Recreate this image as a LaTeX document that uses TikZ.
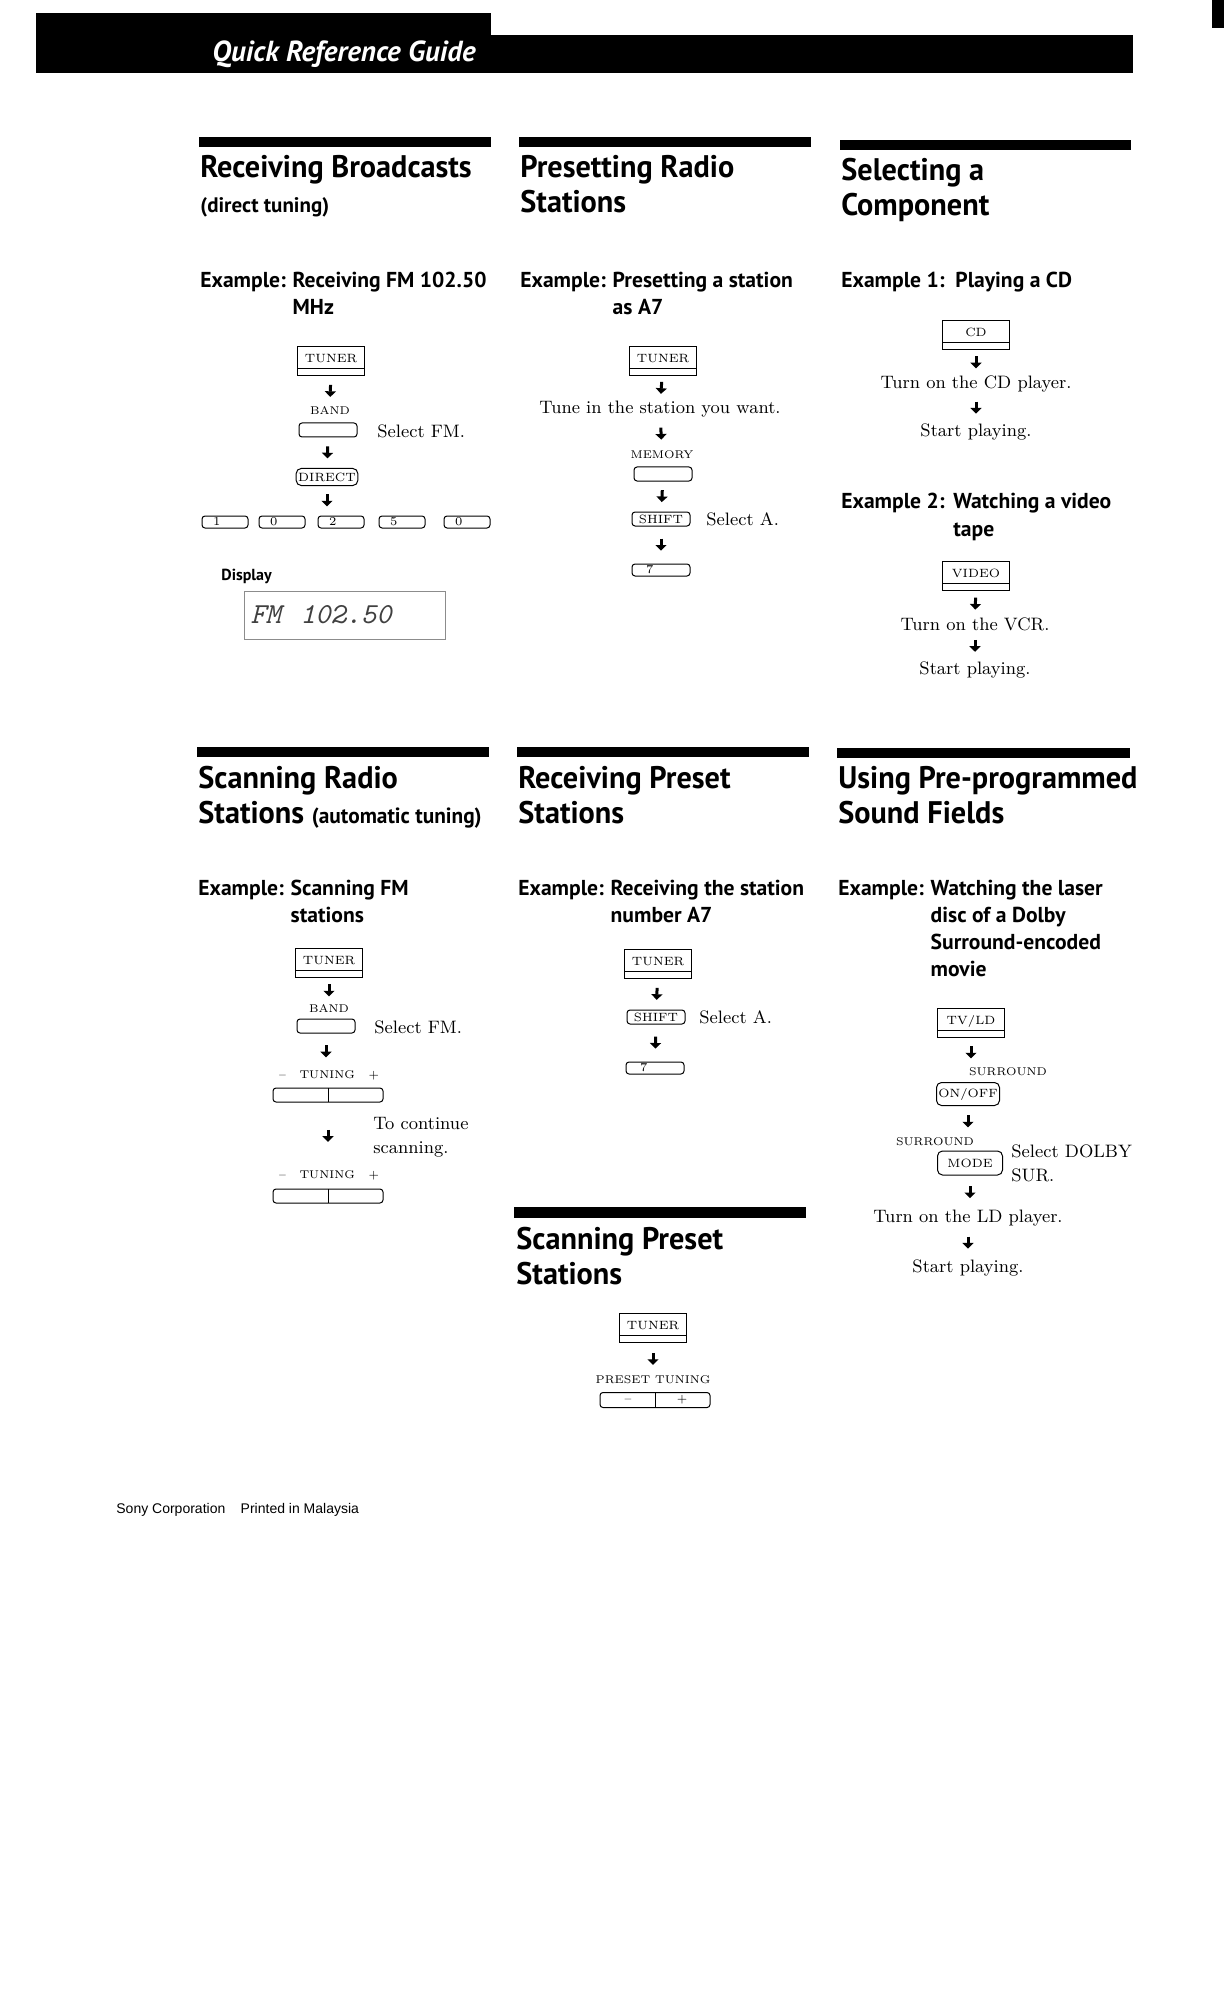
\documentclass[tikz,border=0pt]{standalone}
\usepackage{fontspec}
\usepackage{tikz}
\usetikzlibrary{arrows.meta,decorations.markings}
\newfontfamily\headfont{PT Sans}
\newfontfamily\titlefont[FakeStretch=0.97]{PT Sans}
\newfontfamily\footfont{Liberation Sans}
\newcommand{\keyfont}{\fontsize{6}{7}\selectfont}
\newcommand{\capfont}{\fontsize{5.6}{7}\selectfont}
\tikzset{
  heading/.style={anchor=base west, inner sep=0pt, align=left, font=\titlefont\bfseries\fontsize{15.6}{17.5}\selectfont},
  subhead/.style={anchor=base west, inner sep=0pt, font=\headfont\bfseries\fontsize{10.5}{12}\selectfont},
  exam/.style={anchor=base west, inner sep=0pt, align=left, font=\headfont\bfseries\fontsize{10.8}{13.5}\selectfont},
  note/.style={inner sep=0pt, font=\fontsize{9}{12}\selectfont},
  capt/.style={inner sep=0pt, font=\capfont},
  srcbox/.style={draw, line width=0.5pt, minimum width=33.5pt, minimum height=14.5pt, inner sep=0pt, text height=4.4pt, text depth=2.6pt, font=\keyfont,
    path picture={\draw[line width=0.5pt] ([yshift=3.5pt]path picture bounding box.south west) -- ([yshift=3.5pt]path picture bounding box.south east);}},
  keybtn/.style={draw, line width=0.5pt, rounded corners=1.5pt, minimum width=29pt, minimum height=7pt, inner sep=0pt, font=\keyfont},
  numkey/.style={keybtn, minimum width=23pt, minimum height=6pt, text width=12pt, inner xsep=5.5pt, align=left},
  numkeywide/.style={numkey, minimum width=29pt, text width=15pt, inner xsep=7pt},
  rocker/.style={keybtn, minimum width=55pt, minimum height=7pt,
    path picture={\draw[line width=0.5pt] (path picture bounding box.north) -- (path picture bounding box.south);}},
  lcd/.style={draw=black!45, line width=0.4pt, minimum width=100.5pt, minimum height=24pt, text width=94pt, inner xsep=3.25pt, align=left, text=black!75, font=\ttfamily\itshape\fontsize{14.5}{14.5}\selectfont},
  stepar/.style={draw=none, postaction={decorate}, decoration={markings, mark=at position 0.5 with {\draw[line width=1.5pt, -{Triangle[length=2.8pt, width=5.5pt]}] (-3.2pt,0) -- (2.8pt,0);}}}
}
\begin{document}
\begin{tikzpicture}[x=0.5pt, y=-0.5pt]
\useasboundingbox (0,0) rectangle (1224,2016);
% page header
\fill (36,13) rectangle (491,73);
\fill (491,35) rectangle (1133,73);
\fill (1212,0) rectangle (1224,28);
\node[anchor=base west, inner sep=0pt, text=white, font=\headfont\bfseries\itshape\fontsize{14.5}{16}\selectfont] (guide) at (212,62) {Quick Reference Guide};

% receiving broadcasts
\fill (199,137) rectangle (491,147);
\node[heading] (recv) at (200,178) {Receiving Broadcasts};
\node[subhead] (recvsub) at (200,213) {(direct tuning)};
\node[exam] (ex1) at (200,288) {Example:};
\node[exam] (ex1t) at ([xshift=3pt, yshift=-13.5pt]ex1.base east) {Receiving FM 102.50\\MHz};
\node[srcbox] (tuner1) at (331,361) {TUNER};
\node[capt] (band1) at (330,411) {BAND};
\node[keybtn] (bandkey1) at (328,430) {};
\node[note, anchor=west] (selfm1) at (377,431) {Select FM.};
\node[keybtn, minimum height=8.5pt, inner xsep=1pt, rounded corners=2.5pt] (direct) at (327,477) {DIRECT};
\node[numkey] (k1) at (225,522) {1};
\node[numkey] (k0a) at (282,522) {0};
\node[numkey] (k2) at (341,522) {2};
\node[numkey] (k5) at (402,522) {5};
\node[numkey] (k0b) at (467,522) {0};
\node[anchor=base west, inner sep=0pt, font=\headfont\bfseries\fontsize{8}{9}\selectfont] (disp) at (221,580) {Display};
\node[lcd] (lcd) at (344.5,615) {FM~~102.50};
\draw[stepar] (tuner1) -- (band1);
\draw[stepar] (bandkey1) -- (direct);
\draw[stepar] (direct) -- (direct |- k2.north);

% presetting radio stations
\fill (519,137) rectangle (811,147);
\node[heading] (preset) at (520,213) {Presetting Radio\\Stations};
\node[exam] (ex2) at (520,288) {Example:};
\node[exam] (ex2t) at ([xshift=3pt, yshift=-13.5pt]ex2.base east) {Presetting a station\\as A7};
\node[srcbox] (tuner2) at (663,361) {TUNER};
\node[note] (tunein) at (660,409) {Tune in the station you want.};
\node[capt] (memlab) at (662,455) {MEMORY};
\node[keybtn] (memkey) at (663,474) {};
\node[keybtn] (shift1) at (661,519) {SHIFT};
\node[note, anchor=west] (sela1) at (706,519) {Select A.};
\node[numkeywide] (seven1) at (661,570) {7};
\draw[stepar] (tuner2) -- (tunein);
\draw[stepar] (tunein) -- (memlab);
\draw[stepar] (memkey) -- (shift1);
\draw[stepar] (shift1) -- (seven1);

% selecting a component
\fill (840,140) rectangle (1131,150);
\node[heading] (select) at (841,216) {Selecting a\\Component};
\node[exam] (ex3) at (841,288) {Example 1:\enspace Playing a CD};
\node[srcbox] (cd) at (976,335) {CD};
\node[note] (cdon) at (976,384) {Turn on the CD player.};
\node[note] (play1) at (976,432) {Start playing.};
\node[exam] (ex4) at (841,509) {Example 2:};
\node[exam] (ex4t) at ([xshift=4pt, yshift=-13.5pt]ex4.base east) {Watching a video\\tape};
\node[srcbox] (video) at (976,576) {VIDEO};
\node[note] (vcron) at (975,624) {Turn on the VCR.};
\node[note] (play2) at (975,670) {Start playing.};
\draw[stepar] (cd) -- (cdon);
\draw[stepar] (cdon) -- (play1);
\draw[stepar] (video) -- (vcron);
\draw[stepar] (vcron) -- (play2);

% scanning radio stations
\fill (197,747) rectangle (489,757);
\node[heading] (scan) at (198,823) {Scanning Radio\\Stations {\fontsize{11}{12}\selectfont(automatic tuning)}};
\node[exam] (ex5) at (198,895) {Example:};
\node[exam] (ex5t) at ([xshift=3pt, yshift=-13.5pt]ex5.base east) {Scanning FM\\stations};
\node[srcbox] (tuner3) at (329,963) {TUNER};
\node[capt] (band2) at (329,1008) {BAND};
\node[keybtn] (bandkey2) at (326,1026) {};
\node[note, anchor=west] (selfm2) at (374,1027) {Select FM.};
\node[capt] (tunlab1) at (329,1075) {\makebox[50pt]{--\hfill TUNING\hfill +}};
\node[rocker] (rock1) at (328,1095) {};
\node[note, anchor=west, align=left] (contin) at (373,1137) {To continue\\scanning.};
\node[capt] (tunlab2) at (329,1175) {\makebox[50pt]{--\hfill TUNING\hfill +}};
\node[rocker] (rock2) at (328,1196) {};
\draw[stepar] (tuner3) -- (band2);
\draw[stepar] (bandkey2) -- (bandkey2 |- tunlab1.north);
\draw[stepar] (rock1) -- (rock1 |- tunlab2.north);

% receiving preset stations
\fill (517,747) rectangle (809,757);
\node[heading] (recvpre) at (518,823) {Receiving Preset\\Stations};
\node[exam] (ex6) at (518,895) {Example:};
\node[exam] (ex6t) at ([xshift=3pt, yshift=-13.5pt]ex6.base east) {Receiving the station\\number A7};
\node[srcbox] (tuner4) at (658,964) {TUNER};
\node[keybtn] (shift2) at (656,1017) {SHIFT};
\node[note, anchor=west] (sela2) at (699,1017) {Select A.};
\node[numkeywide] (seven2) at (655,1068) {7};
\draw[stepar] (tuner4) -- (shift2);
\draw[stepar] (shift2) -- (seven2);

% scanning preset stations
\fill (514,1207) rectangle (806,1218);
\node[heading] (scanpre) at (516,1284) {Scanning Preset\\Stations};
\node[srcbox] (tuner5) at (653,1328) {TUNER};
\node[capt] (preslab) at (653,1380) {PRESET TUNING};
\node[rocker, minimum height=7.5pt, font=\capfont] (rock3) at (655,1400) {\makebox[27pt]{--}\makebox[27pt]{+}};
\draw[stepar] (tuner5) -- (preslab);

% sound fields
\fill (837,748) rectangle (1130,758);
\node[heading] (sound) at (838,823) {Using Pre-programmed\\Sound Fields};
\node[exam] (ex7) at (838,895) {Example:};
\node[exam] (ex7t) at ([xshift=3pt, yshift=-40.5pt]ex7.base east) {Watching the laser\\disc of a Dolby\\Surround-encoded\\movie};
\node[srcbox] (tvld) at (971,1023) {TV/LD};
\node[capt] (surlab1) at (1008,1072) {SURROUND};
\node[keybtn, minimum width=31.5pt, minimum height=11.5pt, rounded corners=2.5pt] (onoff) at (968,1094) {ON/OFF};
\node[capt] (surlab2) at (935,1142) {SURROUND};
\node[keybtn, minimum width=32.5pt, minimum height=12pt, rounded corners=2.5pt] (mode) at (970,1163) {MODE};
\node[note, anchor=west, align=left] (dolby) at (1011,1163) {Select DOLBY\\SUR.};
\node[note] (ldon) at (968,1218) {Turn on the LD player.};
\node[note] (play3) at (968,1268) {Start playing.};
\draw[stepar] (tvld) -- (tvld |- surlab1.north);
\draw[stepar] (onoff) -- (onoff |- surlab2.north);
\draw[stepar] (mode) -- (mode |- ldon.north);
\draw[stepar] (ldon) -- (play3);

% footer
\node[anchor=base west, inner sep=0pt, font=\footfont\fontsize{7}{8}\selectfont] (maker) at (116,1513) {Sony Corporation\hspace{1.1em}Printed in Malaysia};
\end{tikzpicture}
\end{document}
